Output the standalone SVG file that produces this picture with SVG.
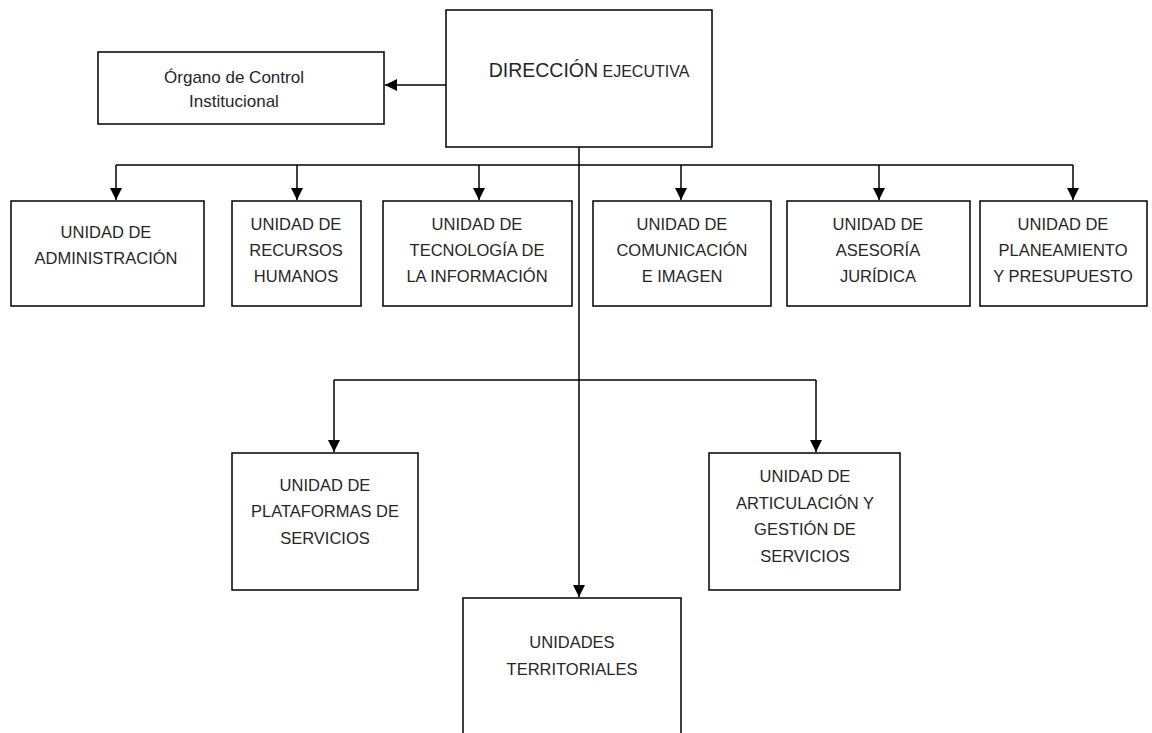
<svg xmlns="http://www.w3.org/2000/svg" width="1152" height="733" viewBox="0 0 1152 733">
<style>
.box{fill:#fff;stroke:#000;stroke-width:1.5}
.t{font-family:"Liberation Sans",Arial,sans-serif;font-size:16.5px;fill:#262626;text-anchor:middle}
.ln{fill:none;stroke:#000;stroke-width:1.5}
</style>
<defs>
<marker id="ah" viewBox="0 0 12 12" refX="12" refY="6" markerWidth="12" markerHeight="12" markerUnits="userSpaceOnUse" orient="auto">
<path d="M0,0 L12,6 L0,12 Z" fill="#000"/>
</marker>
</defs>
<rect width="1152" height="733" fill="#fff"/>
<g id="connectors">
<path class="ln" d="M446,85 H385" marker-end="url(#ah)"/>
<path class="ln" d="M579,147 V597" marker-end="url(#ah)"/>
<path class="ln" d="M116,165 H1073"/>
<path class="ln" d="M116,165 V200" marker-end="url(#ah)"/>
<path class="ln" d="M297,165 V200" marker-end="url(#ah)"/>
<path class="ln" d="M479,165 V200" marker-end="url(#ah)"/>
<path class="ln" d="M681,165 V200" marker-end="url(#ah)"/>
<path class="ln" d="M879,165 V200" marker-end="url(#ah)"/>
<path class="ln" d="M1073,165 V200" marker-end="url(#ah)"/>
<path class="ln" d="M334,380 H816"/>
<path class="ln" d="M334,380 V452" marker-end="url(#ah)"/>
<path class="ln" d="M816,380 V452" marker-end="url(#ah)"/>
</g>
<g id="organo">
<rect class="box" x="98" y="52" width="286" height="72"/>
<text class="t" x="234" y="83" style="font-size:17px">Órgano de Control</text>
<text class="t" x="234" y="107" style="font-size:17px">Institucional</text>
</g>
<g id="direccion">
<rect class="box" x="446" y="10" width="266" height="137"/>
<text x="589" y="77" style="font-family:'Liberation Sans',Arial,sans-serif;fill:#262626;text-anchor:middle"><tspan font-size="19.5">DIRECCIÓN</tspan><tspan font-size="16"> EJECUTIVA</tspan></text>
</g>
<g id="admin">
<rect class="box" x="11" y="201" width="193" height="105"/>
<text class="t" x="106" y="238">UNIDAD DE</text>
<text class="t" x="106" y="264">ADMINISTRACIÓN</text>
</g>
<g id="rrhh">
<rect class="box" x="232" y="201" width="129" height="105"/>
<text class="t" x="296" y="230">UNIDAD DE</text>
<text class="t" x="296" y="256">RECURSOS</text>
<text class="t" x="296" y="282">HUMANOS</text>
</g>
<g id="ti">
<rect class="box" x="383" y="201" width="189" height="105"/>
<text class="t" x="477" y="230">UNIDAD DE</text>
<text class="t" x="477" y="256">TECNOLOGÍA DE</text>
<text class="t" x="477" y="282">LA INFORMACIÓN</text>
</g>
<g id="comunicacion">
<rect class="box" x="593" y="201" width="178" height="105"/>
<text class="t" x="682" y="230">UNIDAD DE</text>
<text class="t" x="682" y="256">COMUNICACIÓN</text>
<text class="t" x="682" y="282">E IMAGEN</text>
</g>
<g id="asesoria">
<rect class="box" x="787" y="201" width="183" height="105"/>
<text class="t" x="878" y="230">UNIDAD DE</text>
<text class="t" x="878" y="256">ASESORÍA</text>
<text class="t" x="878" y="282">JURÍDICA</text>
</g>
<g id="planeamiento">
<rect class="box" x="980" y="201" width="167" height="105"/>
<text class="t" x="1063" y="230">UNIDAD DE</text>
<text class="t" x="1063" y="256">PLANEAMIENTO</text>
<text class="t" x="1063" y="282">Y PRESUPUESTO</text>
</g>
<g id="plataformas">
<rect class="box" x="232" y="453" width="186" height="137"/>
<text class="t" x="325" y="491">UNIDAD DE</text>
<text class="t" x="325" y="517">PLATAFORMAS DE</text>
<text class="t" x="325" y="544">SERVICIOS</text>
</g>
<g id="articulacion">
<rect class="box" x="709" y="453" width="191" height="137"/>
<text class="t" x="805" y="482">UNIDAD DE</text>
<text class="t" x="805" y="509">ARTICULACIÓN Y</text>
<text class="t" x="805" y="535">GESTIÓN DE</text>
<text class="t" x="805" y="562">SERVICIOS</text>
</g>
<g id="territoriales">
<rect class="box" x="463" y="598" width="218" height="145"/>
<text class="t" x="572" y="648">UNIDADES</text>
<text class="t" x="572" y="675">TERRITORIALES</text>
</g>
</svg>
